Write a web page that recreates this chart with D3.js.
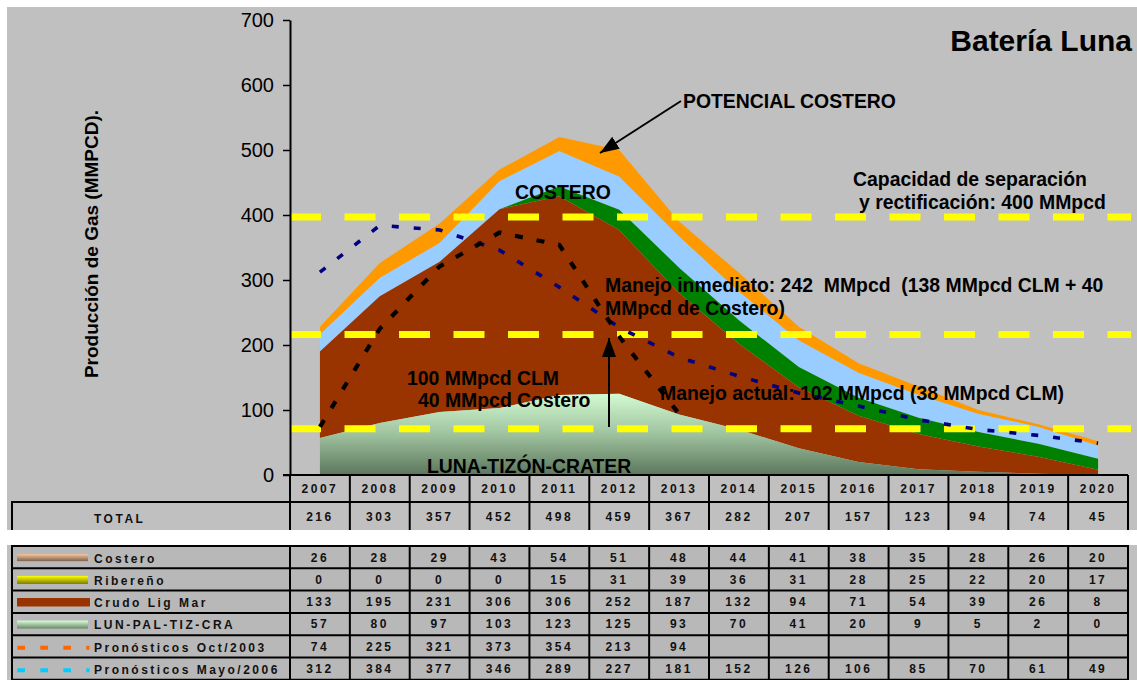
<!DOCTYPE html>
<html><head><meta charset="utf-8">
<script src="https://cdn.jsdelivr.net/npm/d3@7"></script>
<style>
html,body{margin:0;padding:0;background:#fff;}
svg{display:block;font-family:"Liberation Sans",Arial,sans-serif;}
text.pre{white-space:pre;}
</style></head><body>
<svg id="chart" width="1137" height="680"></svg>
<script>
// ---------------- DATA ----------------
const years = [2007,2008,2009,2010,2011,2012,2013,2014,2015,2016,2017,2018,2019,2020];
const total = [216,303,357,452,498,459,367,282,207,157,123,94,74,45];
const costero = [26,28,29,43,54,51,48,44,41,38,35,28,26,20];
const ribereno = [0,0,0,0,15,31,39,36,31,28,25,22,20,17];
const crudoLigMar = [133,195,231,306,306,252,187,132,94,71,54,39,26,8];
const lunPalTizCra = [57,80,97,103,123,125,93,70,41,20,9,5,2,0];
const pronosticosOct2003 = [74,225,321,373,354,213,94,null,null,null,null,null,null,null];
const pronosticosMayo2006 = [312,384,377,346,289,227,181,152,126,106,85,70,61,49];
// orange band "POTENCIAL COSTERO" (added above total)
const potencialCostero = [12,23,30,18,22,41,23,29,21,15,13,6,4,7];
// yellow reference lines (MMpcd)
const referenceLines = [397,216,71];
const yTickValues = [0,100,200,300,400,500,600,700];
const legendLabels = ["Costero","Ribereño","Crudo Lig Mar","LUN-PAL-TIZ-CRA","Pronósticos Oct/2003","Pronósticos Mayo/2006"];

// ---------------- SETUP ----------------
const svg = d3.select("#chart");
const W = 1137, H = 680;
const x = d3.scaleBand().domain(years).range([290,1128]).paddingInner(0).paddingOuter(0);
const bw = x.bandwidth();
const cx = yr => x(yr) + bw/2;
const y = d3.scaleLinear().domain([0,700]).range([475,20]);

// background
svg.append("rect").attr("width",W).attr("height",H).attr("fill","#fff");
svg.append("rect").attr("x",7).attr("y",7).attr("width",W-7).attr("height",523).attr("fill","#C0C0C0");
svg.append("rect").attr("x",7).attr("y",545).attr("width",W-7).attr("height",H-545).attr("fill","#C0C0C0");

const defs = svg.append("defs");
const gLun = defs.append("linearGradient").attr("id","gLun").attr("gradientUnits","userSpaceOnUse")
  .attr("x1",0).attr("x2",0).attr("y1",y(125)).attr("y2",y(0));
gLun.append("stop").attr("offset","0").attr("stop-color","#D2FAD2");
gLun.append("stop").attr("offset","0.5").attr("stop-color","#9EC29E");
gLun.append("stop").attr("offset","1").attr("stop-color","#5C765C");

function swGrad(id, c1, c2){
  const g = defs.append("linearGradient").attr("id",id).attr("x1",0).attr("x2",0).attr("y1",0).attr("y2",1);
  g.append("stop").attr("offset","0").attr("stop-color",c1);
  g.append("stop").attr("offset","1").attr("stop-color",c2);
}
swGrad("swCostero","#F6C49C","#7E624C");
swGrad("swRib","#FFFF00","#7A7A00");
swGrad("swLun","#D8FFD8","#6A886A");

defs.append("marker").attr("id","arrowHead").attr("markerUnits","userSpaceOnUse")
  .attr("viewBox","0 -8 20 16").attr("refX",19).attr("refY",0)
  .attr("markerWidth",20).attr("markerHeight",16).attr("orient","auto")
  .append("path").attr("d","M0,-7L19,0L0,7Z").attr("fill","#000");

// ---------------- STACKED AREAS ----------------
const rows = years.map((yr,i)=>({year:yr, lun:lunPalTizCra[i], crudo:crudoLigMar[i], rib:ribereno[i], cost:costero[i], pot:potencialCostero[i]}));
const keys = ["lun","crudo","rib","cost","pot"];
const fills = {lun:"url(#gLun)", crudo:"#993300", rib:"#008000", cost:"#99CCFF", pot:"#FF9900"};
const stack = d3.stack().keys(keys)(rows);
const area = d3.area().x(d=>cx(d.data.year)).y0(d=>y(d[0])).y1(d=>y(d[1]));
svg.append("g").selectAll("path").data(stack.slice().reverse()).join("path")
  .attr("d",area).attr("fill",d=>fills[d.key]);

// ---------------- REFERENCE LINES ----------------
svg.append("g").selectAll("line").data(referenceLines).join("line")
  .attr("x1",290).attr("x2",1131).attr("y1",d=>y(d)).attr("y2",d=>y(d))
  .attr("stroke","#FFFF00").attr("stroke-width",7).attr("stroke-dasharray","31,23.5");

// ---------------- FORECAST LINES ----------------
const line = d3.line().defined(d=>d.v!=null).x(d=>cx(d.year)).y(d=>y(d.v));
svg.append("path").datum(years.map((yr,i)=>({year:yr,v:pronosticosMayo2006[i]})))
  .attr("d",line).attr("fill","none").attr("stroke","#000080").attr("stroke-width",3.6).attr("stroke-dasharray","7,15");
svg.append("path").datum(years.map((yr,i)=>({year:yr,v:pronosticosOct2003[i]})))
  .attr("d",line).attr("fill","none").attr("stroke","#000").attr("stroke-width",4.2).attr("stroke-dasharray","8,14");

// ---------------- AXES ----------------
const yAxis = svg.append("g").attr("transform","translate(290,0)")
  .call(d3.axisLeft(y).tickValues(yTickValues).tickSize(7).tickSizeOuter(0).tickPadding(9));
yAxis.select(".domain").attr("stroke","#000").attr("stroke-width",2);
yAxis.selectAll(".tick line").attr("stroke","#000").attr("stroke-width",1.5);
yAxis.selectAll(".tick text").attr("font-size",20).attr("fill","#000")
  .attr("font-family","'Liberation Sans',Arial,sans-serif");

svg.append("text").attr("transform","translate(98,244) rotate(-90)")
  .attr("text-anchor","middle").attr("font-size",19).attr("font-weight","bold")
  .text("Producción de Gas (MMPCD).");

// ---------------- ANNOTATIONS ----------------
const ann = svg.append("g").attr("font-weight","bold").attr("fill","#000");
function t(txt,xx,yy,size,anchor){ ann.append("text").attr("class","pre").attr("xml:space","preserve")
  .attr("x",xx).attr("y",yy).attr("font-size",size||19.4)
  .attr("text-anchor",anchor||"start").text(txt); }
t("Batería Luna",1132,51,30,"end");
t("POTENCIAL COSTERO",683,108);
t("COSTERO",515,199);
t("Capacidad de separación",853,186);
t("y rectificación: 400 MMpcd",859,208.5);
t("Manejo inmediato: 242  MMpcd  (138 MMpcd CLM + 40",605,292);
t("MMpcd de Costero)",605,315);
t("100 MMpcd CLM",407,385);
t("40 MMpcd Costero",418,407);
t("Manejo actual: 102 MMpcd (38 MMpcd CLM)",660,400);
t("LUNA-TIZÓN-CRATER",427,472.5);

svg.append("line").attr("x1",681).attr("y1",101).attr("x2",600).attr("y2",153)
  .attr("stroke","#000").attr("stroke-width",2).attr("marker-end","url(#arrowHead)");
svg.append("line").attr("x1",609).attr("y1",427).attr("x2",609).attr("y2",338)
  .attr("stroke","#000").attr("stroke-width",2).attr("marker-end","url(#arrowHead)");

// ---------------- TABLE 1 (years + TOTAL) ----------------
const tb = svg.append("g");
const tstyle = s => s.attr("font-weight","bold").attr("font-size",12).style("letter-spacing","2.5px").attr("fill","#111");
// white gap
svg.append("rect").attr("x",0).attr("y",530).attr("width",W).attr("height",15).attr("fill","#fff");
// header row
tb.append("line").attr("x1",283).attr("x2",1128).attr("y1",475).attr("y2",475).attr("stroke","#000").attr("stroke-width",2);
tb.append("line").attr("x1",12).attr("x2",1128).attr("y1",502).attr("y2",502).attr("stroke","#000").attr("stroke-width",2);
tb.append("line").attr("x1",12).attr("x2",12).attr("y1",501).attr("y2",530).attr("stroke","#000").attr("stroke-width",2);
tb.selectAll("line.v").data([...years.map(yr=>x(yr)),1128]).join("line").attr("class","v")
  .attr("x1",d=>d).attr("x2",d=>d).attr("y1",475).attr("y2",530).attr("stroke","#000").attr("stroke-width",2);
tb.selectAll("text.yr").data(years).join("text").attr("class","yr")
  .attr("x",d=>cx(d)).attr("y",493).attr("text-anchor","middle").call(tstyle).text(d=>d);
tb.selectAll("text.tot").data(years).join("text").attr("class","tot")
  .attr("x",(d,i)=>cx(d)).attr("y",521).attr("text-anchor","middle").call(tstyle).text((d,i)=>total[i]);
tb.append("text").attr("x",94).attr("y",523).call(tstyle).text("TOTAL");

// ---------------- TABLE 2 (legend + values) ----------------
const rowTop = 546, rowH = 22.3;
const seriesRows = [costero, ribereno, crudoLigMar, lunPalTizCra, pronosticosOct2003, pronosticosMayo2006];
const t2 = svg.append("g");
t2.append("rect").attr("x",12).attr("y",rowTop).attr("width",1128-12).attr("height",rowH*6).attr("fill","#B8B8B8");
// legend swatches
const sw = [
  {fill:"url(#swCostero)", h:7, w:71},
  {fill:"url(#swRib)", h:8, w:71},
  {fill:"#993300", h:8.5, w:73},
  {fill:"url(#swLun)", h:8, w:71}
];
sw.forEach((s,i)=>{
  t2.append("rect").attr("x",17).attr("y",rowTop+i*rowH+rowH/2-s.h/2+0.5).attr("width",s.w).attr("height",s.h).attr("fill",s.fill);
});
[["#FF6600",4],["#00CCFF",5]].forEach(([c,i])=>{
  t2.append("line").attr("x1",17.3).attr("x2",89.5).attr("y1",rowTop+i*rowH+rowH/2+1.5).attr("y2",rowTop+i*rowH+rowH/2+1.5)
    .attr("stroke",c).attr("stroke-width",4).attr("stroke-dasharray","7.7,15.3");
});
legendLabels.forEach((lab,i)=>{
  t2.append("text").attr("x",94).attr("y",rowTop+i*rowH+16.5).call(tstyle).text(lab);
});
seriesRows.forEach((arr,i)=>{
  t2.selectAll("text.r"+i).data(years).join("text").attr("class","r"+i)
    .attr("x",d=>cx(d)).attr("y",rowTop+i*rowH+15.5).attr("text-anchor","middle").call(tstyle)
    .text((d,j)=>arr[j]==null?"":arr[j]);
});
// grid
d3.range(7).forEach(i=>{
  t2.append("line").attr("x1",11).attr("x2",1129).attr("y1",rowTop+i*rowH).attr("y2",rowTop+i*rowH)
    .attr("stroke","#000").attr("stroke-width",2);
});
t2.selectAll("line.v2").data([12,...years.map(yr=>x(yr)),1128]).join("line").attr("class","v2")
  .attr("x1",d=>d).attr("x2",d=>d).attr("y1",rowTop).attr("y2",rowTop+rowH*6).attr("stroke","#000").attr("stroke-width",2);
</script>
</body></html>
